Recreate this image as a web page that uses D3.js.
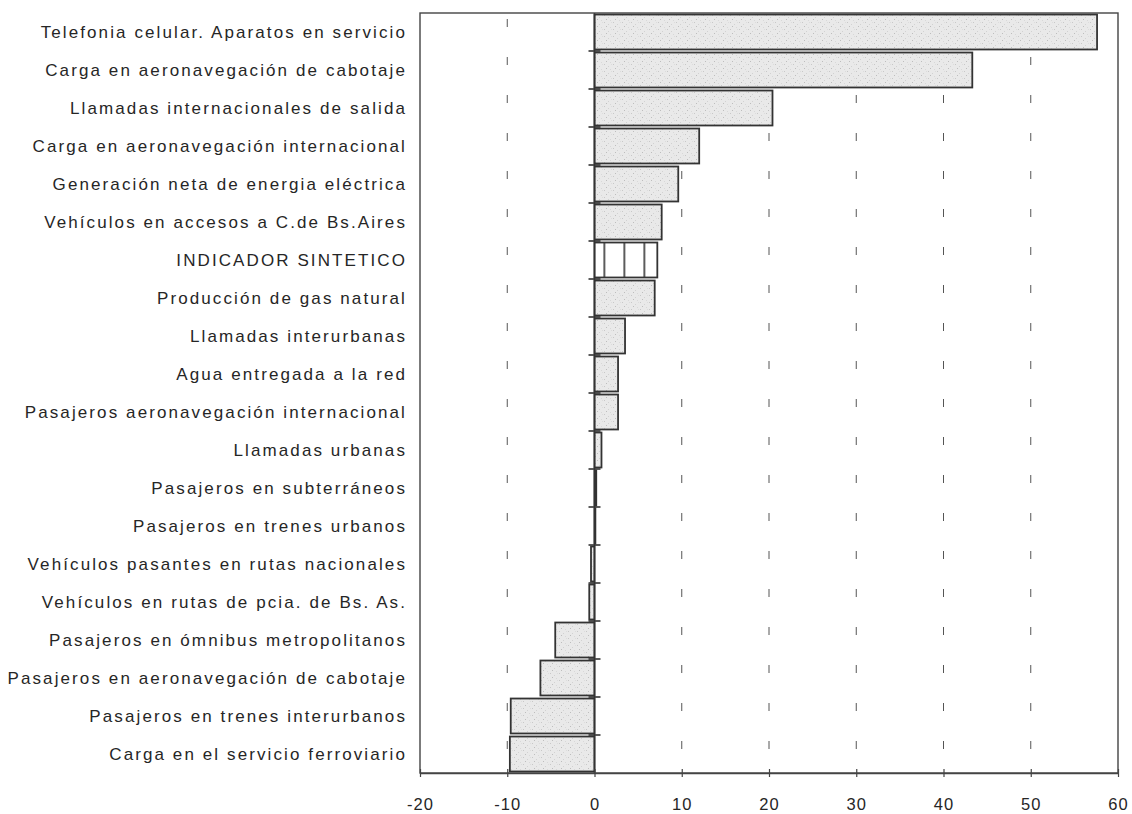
<!DOCTYPE html>
<html>
<head>
<meta charset="utf-8">
<script src="https://cdn.jsdelivr.net/npm/d3@7"></script>
<style>
  html, body { margin: 0; padding: 0; background: #fff; }
  svg { display: block; }
  text { font-family: "Liberation Sans", Arial, sans-serif; fill: #262626; }
</style>
</head>
<body>
<svg id="chart" width="1132" height="814"></svg>
<script>
const categories = [
  "Telefonia celular. Aparatos en servicio",
  "Carga en aeronavegación de cabotaje",
  "Llamadas internacionales de salida",
  "Carga en aeronavegación internacional",
  "Generación neta de energia eléctrica",
  "Vehículos en accesos a C.de Bs.Aires",
  "INDICADOR SINTETICO",
  "Producción de gas natural",
  "Llamadas interurbanas",
  "Agua entregada a la red",
  "Pasajeros aeronavegación internacional",
  "Llamadas urbanas",
  "Pasajeros en subterráneos",
  "Pasajeros en trenes urbanos",
  "Vehículos pasantes en rutas nacionales",
  "Vehículos en rutas de pcia. de Bs. As.",
  "Pasajeros en ómnibus metropolitanos",
  "Pasajeros en aeronavegación de cabotaje",
  "Pasajeros en trenes interurbanos",
  "Carga en el servicio ferroviario"
];
const values = [57.6, 43.3, 20.4, 12.0, 9.6, 7.7, 7.2, 6.9, 3.5, 2.7, 2.7, 0.8, 0.2, 0.1, -0.4, -0.6, -4.5, -6.2, -9.6, -9.7];
const highlight = "INDICADOR SINTETICO";
const xTicks = [-20, -10, 0, 10, 20, 30, 40, 50, 60];
const gridTicks = [-10, 10, 20, 30, 40, 50];

const svg = d3.select("#chart");
const L = 420, R = 1118, T = 13, B = 773;

const x = d3.scaleLinear().domain([-20, 60]).range([L, R]);
const y = d3.scaleBand().domain(categories).range([T, B]).paddingInner(0.08).paddingOuter(0.04);

// patterns
const defs = svg.append("defs");
const speck = defs.append("pattern").attr("id", "speck").attr("patternUnits", "userSpaceOnUse")
  .attr("width", 9).attr("height", 7);
speck.append("rect").attr("width", 9).attr("height", 7).attr("fill", "#e9e9e9");
[[1,1,"#c8c8c8"],[5,3,"#d2d2d2"],[3,5,"#bdbdbd"],[7,6,"#d8d8d8"],[8,1,"#dcdcdc"]].forEach(([px,py,c]) =>
  speck.append("rect").attr("x", px).attr("y", py).attr("width", 1).attr("height", 1).attr("fill", c));

const stripe = defs.append("pattern").attr("id", "stripe").attr("patternUnits", "userSpaceOnUse")
  .attr("width", 20).attr("height", 10).attr("patternTransform", `translate(${x(0) + 9},0)`);
stripe.append("rect").attr("width", 20).attr("height", 10).attr("fill", "#fff");
stripe.append("line").attr("x1", 0.8).attr("x2", 0.8).attr("y1", 0).attr("y2", 10)
  .attr("stroke", "#333").attr("stroke-width", 1.6);

// dashed grid
const step = y.step();
svg.append("g").selectAll("line").data(gridTicks).join("line")
  .attr("x1", d => x(d)).attr("x2", d => x(d))
  .attr("y1", T).attr("y2", B)
  .attr("stroke", "#555").attr("stroke-width", 1)
  .attr("stroke-dasharray", `8,${step - 8}`)
  .attr("stroke-dashoffset", step - 6);

// bars
svg.append("g").selectAll("rect").data(categories).join("rect")
  .attr("x", (d, i) => x(Math.min(0, values[i])))
  .attr("y", d => y(d))
  .attr("width", (d, i) => Math.abs(x(values[i]) - x(0)))
  .attr("height", y.bandwidth())
  .attr("fill", d => d === highlight ? "url(#stripe)" : "url(#speck)")
  .attr("stroke", "#333").attr("stroke-width", 1.8);

// zero axis line with category ticks
svg.append("line").attr("x1", x(0)).attr("x2", x(0)).attr("y1", T).attr("y2", B)
  .attr("stroke", "#333").attr("stroke-width", 1.6);
svg.append("g").selectAll("line").data(categories.slice(1)).join("line")
  .attr("x1", x(0) - 6).attr("x2", x(0) + 6)
  .attr("y1", d => y(d) - step * y.paddingInner() / 2)
  .attr("y2", d => y(d) - step * y.paddingInner() / 2)
  .attr("stroke", "#333").attr("stroke-width", 1.6);

// frame
svg.append("rect").attr("x", L).attr("y", T).attr("width", R - L).attr("height", B - T)
  .attr("fill", "none").attr("stroke", "#444").attr("stroke-width", 1.4);

// x axis
const ax = svg.append("g").attr("transform", `translate(0,${B})`)
  .call(d3.axisBottom(x).tickValues(xTicks).tickFormat(d => String(d)).tickSizeOuter(0));
ax.select(".domain").attr("stroke", "#444").attr("stroke-width", 1.4);
ax.selectAll(".tick line").attr("y1", -4).attr("y2", 4).attr("stroke", "#444").attr("stroke-width", 1.2);
ax.selectAll(".tick text").attr("y", 25).attr("font-size", 16.5)
  .attr("font-family", "Liberation Sans, Arial, sans-serif").attr("fill", "#262626")
  .style("letter-spacing", "1px");

// category labels
svg.append("g").selectAll("text").data(categories).join("text")
  .attr("x", 407)
  .attr("y", d => y(d) + y.bandwidth() / 2)
  .attr("dy", "0.35em")
  .attr("text-anchor", "end")
  .attr("font-size", 17)
  .style("letter-spacing", "2.1px")
  .text(d => d);
</script>
</body>
</html>
